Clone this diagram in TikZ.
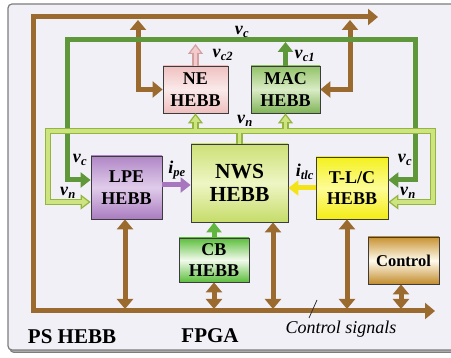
\documentclass[tikz,border=0pt]{standalone}
\usepackage{fontspec}
\setmainfont{Liberation Serif}
\usetikzlibrary{arrows.meta}
\definecolor{framefill}{RGB}{242,240,247}
\definecolor{framedraw}{RGB}{125,125,125}
\definecolor{brownc}{RGB}{154,106,46}
\definecolor{vcg}{RGB}{94,152,58}
\definecolor{vnl}{RGB}{206,228,128}
\definecolor{vnd}{RGB}{146,182,64}
\definecolor{pkl}{RGB}{242,204,204}
\definecolor{pkd}{RGB}{212,160,160}
\definecolor{purp}{RGB}{168,118,190}
\definecolor{yelarr}{RGB}{242,228,24}
\definecolor{cbarr}{RGB}{96,182,62}
\definecolor{boxborder}{RGB}{60,60,60}
\newcommand\lbl[2]{\textbf{\textit{#1}\textsubscript{\textit{#2}}}}
\begin{document}
\begin{tikzpicture}[x=1pt,y=-1pt,
  box/.style={draw=boxborder, line width=0.8pt, inner sep=0pt, align=center,
    font=\fontsize{18}{21.5}\selectfont\bfseries},
  lab/.style={font=\fontsize{18}{20}\selectfont, inner sep=0pt},
  BT/.tip={Triangle[width=16pt,length=10pt]},
  GT/.tip={Triangle[width=15pt,length=10pt]},
  VN/.tip={Triangle[width=15pt,length=10pt,fill=vnl,line width=1.2pt]},
  PK/.tip={Triangle[width=15pt,length=10pt,fill=pkl,line width=1.2pt]},
  bus/.style={draw=brownc, line width=5pt},
  vcline/.style={draw=vcg, line width=5pt},
  vnout/.style={draw=vnd, line width=6.5pt, line join=miter},
  vnin/.style={draw=vnl, line width=3.6pt, line join=miter},
]
\useasboundingbox (0,0) rectangle (451,358);
\fill[white] (0,0) rectangle (451,358);
% frame
\draw[framedraw, line width=1pt, rounded corners=4pt, fill=framedraw!60] (10,6) rectangle (470,352.5);
\draw[framedraw, line width=1.2pt, rounded corners=4pt, fill=framefill] (8,4) rectangle (470,350);

% boxes
\node[box, minimum width=65pt, minimum height=47pt, top color={rgb,255:red,240;green,192;blue,192}, bottom color={rgb,255:red,238;green,190;blue,190}, middle color={rgb,255:red,250;green,234;blue,234}] (NE) at (195.5,89.5) {NE\\HEBB};
\node[box, minimum width=69pt, minimum height=47pt, top color={rgb,255:red,146;green,194;blue,104}, bottom color={rgb,255:red,128;green,180;blue,88}, middle color={rgb,255:red,218;green,236;blue,198}] (MAC) at (285.5,89.5) {MAC\\HEBB};
\node[box, minimum width=71pt, minimum height=63pt, top color={rgb,255:red,176;green,134;blue,198}, bottom color={rgb,255:red,170;green,124;blue,192}, middle color={rgb,255:red,224;green,204;blue,234}] (LPE) at (126.5,187.5) {LPE\\HEBB};
\node[box, minimum width=97pt, minimum height=78pt, font=\fontsize{21.5}{23.5}\selectfont\bfseries, top color={rgb,255:red,204;green,224;blue,118}, bottom color={rgb,255:red,198;green,220;blue,106}, middle color={rgb,255:red,238;green,246;blue,196}] (NWS) at (239.5,183) {NWS\\HEBB};
\node[box, minimum width=72pt, minimum height=62pt, top color={rgb,255:red,244;green,240;blue,30}, bottom color={rgb,255:red,244;green,236;blue,20}, middle color={rgb,255:red,253;green,252;blue,150}] (TLC) at (352,188) {T-L/C\\HEBB};
\node[box, minimum width=70pt, minimum height=44pt, top color={rgb,255:red,92;green,190;blue,60}, bottom color={rgb,255:red,92;green,190;blue,60}, middle color={rgb,255:red,242;green,250;blue,236}] (CB) at (214,260) {CB\\HEBB};
\node[box, minimum width=71pt, minimum height=47pt, font=\fontsize{16.5}{19}\selectfont\bfseries, top color={rgb,255:red,200;green,146;blue,50}, bottom color={rgb,255:red,194;green,140;blue,44}, middle color={rgb,255:red,255;green,250;blue,236}] (CTRL) at (403.5,260.5) {Control};

% coordinates
\coordinate (btopR) at (378,17);
\coordinate (btopL) at (33,17);
\coordinate (bbotL) at (33,311);
\coordinate (bbotR) at (435,311);
\coordinate (bNE) at (138,20);
\coordinate (bMAC) at (350,20);
\coordinate (bLPE) at (125,309);
\coordinate (bCB) at (214,309);
\coordinate (bNWS) at (273,309);
\coordinate (bTLC) at (347,309);
\coordinate (bCTRL) at (401,309);
\coordinate (vcLL) at (67,180);
\coordinate (vcLT) at (67,40);
\coordinate (vcRT) at (415,40);
\coordinate (vcRR) at (415,180);
\coordinate (vnLL) at (48,202);
\coordinate (vnLT) at (48,131);
\coordinate (vnRT) at (433,131);
\coordinate (vnRR) at (433,202);
\coordinate (pkT) at (195.5,44);
\coordinate (vc1T) at (285.5,42);
\coordinate (slA) at (317,300);
\coordinate (slB) at (309,318);

% brown bus
\draw[bus, {BT}-{BT}] (btopR) -- (btopL) -- (bbotL) -- (bbotR);
\draw[bus, {BT}-{BT}] (bNE) |- (NE.west);
\draw[bus, {BT}-{BT}] (bMAC) |- (MAC.east);
\draw[bus, {BT}-{BT}] (LPE.south -| bLPE) -- (bLPE);
\draw[bus, {BT}-{BT}] (CB.south -| bCB) -- (bCB);
\draw[bus, {BT}-{BT}] (NWS.south -| bNWS) -- (bNWS);
\draw[bus, {BT}-{BT}] (TLC.south -| bTLC) -- (bTLC);
\draw[bus, {BT}-{BT}] (CTRL.south -| bCTRL) -- (bCTRL);

% vc loop
\draw[vcline, line join=miter, {GT}-{GT}] (LPE.west |- vcLL) -- (vcLL) -- (vcLT) -- (vcRT) -- (vcRR) -- (TLC.east |- vcRR);
\draw[vcline, -{GT}] (MAC.north) -- (vc1T);

% vn loop (outlined)
\draw[vnout, {VN}-{VN}] (LPE.west |- vnLL) -- (vnLL) -- (vnLT) -- (vnRT) -- (vnRR) -- (TLC.east |- vnRR);
\draw[vnout, -{VN}] (NE.south |- vnLT) -- (NE.south);
\draw[vnout, -{VN}] (MAC.south |- vnLT) -- (MAC.south);
\draw[vnout] (NWS.north) -- (NWS.north |- vnLT);
\draw[vnin, shorten <=8pt, shorten >=8pt] (LPE.west |- vnLL) -- (vnLL) -- (vnLT) -- (vnRT) -- (vnRR) -- (TLC.east |- vnRR);
\draw[vnin, shorten >=8pt] (NE.south |- vnLT) -- (NE.south);
\draw[vnin, shorten >=8pt] (MAC.south |- vnLT) -- (MAC.south);
\draw[vnin] (NWS.north) -- (NWS.north |- vnLT);

% pink vc2
\draw[draw=pkd, line width=6.5pt, -{PK}] (NE.north) -- (pkT);
\draw[draw=pkl, line width=3.6pt, shorten >=8pt] (NE.north) -- (pkT);

% internal arrows
\draw[draw=purp, line width=5pt, -{GT}] ([yshift=2.5pt]LPE.east) -- ([yshift=2.5pt]LPE.east -| NWS.west);
\draw[draw=yelarr, line width=5pt, -{GT}] (TLC.west) -- (TLC.west -| NWS.east);
\draw[draw=cbarr, line width=5pt, -{GT}] (CB.north) -- (CB.north |- NWS.south);

% slash
\draw[black!80, line width=0.8pt] (slA) -- (slB);

% labels
\node[lab] (Lvc) at (242,32) {\lbl{v}{c}};
\node[lab] (Lvc2) at (223,55) {\lbl{v}{c2}};
\node[lab] (Lvc1) at (305,56) {\lbl{v}{c1}};
\node[lab] (Lvn) at (245,121) {\lbl{v}{n}};
\node[lab] (Lipe) at (177,170) {\lbl{i}{pe}};
\node[lab] (Litlc) at (305,172) {\lbl{i}{tlc}};
\node[lab] (Lvcl) at (80,160) {\lbl{v}{c}};
\node[lab] (Lvnl) at (68,193) {\lbl{v}{n}};
\node[lab] (Lvcr) at (405,160) {\lbl{v}{c}};
\node[lab] (Lvnr) at (408,193) {\lbl{v}{n}};
\node[inner sep=0pt, font=\fontsize{21}{24}\selectfont\bfseries] (PS) at (72,337) {PS HEBB};
\node[inner sep=0pt, font=\fontsize{21}{24}\selectfont\bfseries] (FPGA) at (210,336) {FPGA};
\node[inner sep=0pt, font=\fontsize{18}{20}\selectfont\itshape] (CS) at (341,329) {Control signals};
\end{tikzpicture}
\end{document}
